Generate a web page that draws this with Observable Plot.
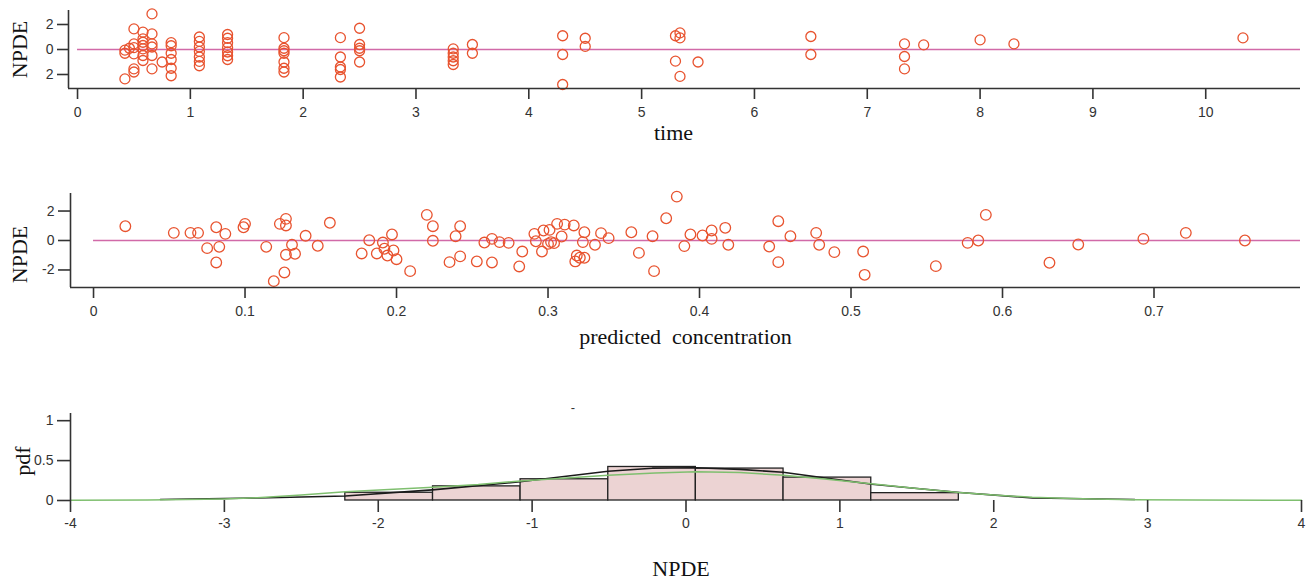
<!DOCTYPE html>
<html><head><meta charset="utf-8">
<script src="https://cdn.jsdelivr.net/npm/d3@7"></script>
<script src="https://cdn.jsdelivr.net/npm/@observablehq/plot@0.6"></script>
<style>
html,body{margin:0;padding:0;background:#fff;}
#chart svg{display:block;}
svg text{white-space:pre;}
</style></head><body><div id="chart"></div>
<script>
// ---- Panel 1: NPDE vs time ----
const timeVals = [0.42,0.42,0.42,0.46,0.5,0.5,0.5,0.5,0.5,0.5,0.58,0.58,0.58,0.58,0.58,0.58,0.58,0.66,0.66,0.66,0.66,0.66,0.66,0.75,0.83,0.83,0.83,0.83,0.83,0.83,1.08,1.08,1.08,1.08,1.08,1.08,1.08,1.33,1.33,1.33,1.33,1.33,1.33,1.33,1.83,1.83,1.83,1.83,1.83,1.83,1.83,2.33,2.33,2.33,2.33,2.33,2.5,2.5,2.5,2.5,2.5,3.33,3.33,3.33,3.33,3.33,3.5,3.5,4.3,4.3,4.3,4.5,4.5,5.3,5.3,5.34,5.34,5.34,5.5,6.5,6.5,7.33,7.33,7.33,7.5,8.0,8.3,10.33];
const timeNpde = [-2.35,-0.3,-0.05,0.1,1.65,0.45,0.15,-0.35,-1.55,-1.8,1.39,0.85,0.58,0.32,0.05,-0.48,-0.88,2.85,1.25,0.45,0.2,-0.48,-1.55,-1.0,0.55,0.3,-0.3,-0.8,-1.5,-2.1,1.0,0.65,0.2,-0.15,-0.6,-0.95,-1.3,1.2,0.9,0.55,0.15,-0.2,-0.5,-0.8,0.95,0.1,-0.1,-0.3,-1.0,-1.5,-1.8,0.95,-0.6,-1.4,-1.6,-2.2,1.7,0.4,0.1,-0.1,-1.0,0.05,-0.3,-0.6,-0.9,-1.2,0.4,-0.3,1.1,-0.4,-2.8,0.9,0.25,1.1,-0.93,1.33,0.93,-2.15,-1.0,1.04,-0.4,0.45,-0.56,-1.55,0.37,0.77,0.45,0.93];
const timeTicks = [0,1,2,3,4,5,6,7,8,9,10];
const npdeTicks = [-2,0,2];

// ---- Panel 2: NPDE vs predicted concentration ----
const predConc = [0.021,0.053,0.064,0.069,0.075,0.081,0.081,0.083,0.087,0.099,0.100,0.114,0.119,0.123,0.126,0.127,0.127,0.127,0.131,0.133,0.140,0.148,0.156,0.177,0.182,0.187,0.191,0.192,0.194,0.197,0.198,0.200,0.209,0.220,0.224,0.224,
  0.239,0.242,0.242,0.235,0.253,0.258,0.263,0.263,0.268,0.274,0.281,0.283,0.291,0.292,0.296,0.297,0.301,0.300,0.302,0.304,0.306,0.309,0.311,0.317,0.319,0.318,0.321,0.324,0.324,0.323,0.331,0.335,0.340,0.355,0.360,0.369,0.370,0.378,0.385,0.390,0.394,0.402,0.408,0.408,0.417,0.419,0.446,0.452,0.452,0.460,0.477,0.479,0.489,0.508,0.509,
  0.556,0.577,0.584,0.589,0.631,0.650,0.693,0.721,0.760];
const predNpde = [0.97,0.52,0.52,0.52,-0.52,0.9,-1.49,-0.43,0.45,0.9,1.13,-0.43,-2.76,1.13,-2.17,1.47,1.02,-0.97,-0.29,-0.9,0.32,-0.36,1.2,-0.88,0.02,-0.88,-0.14,-0.56,-1.02,0.41,-0.68,-1.27,-2.08,1.74,0.97,-0.02,
  0.29,0.97,-1.08,-1.47,-1.42,-0.14,0.11,-1.49,-0.11,-0.16,-1.76,-0.75,0.45,-0.05,-0.75,0.68,0.72,-0.23,-0.11,-0.18,1.13,0.27,1.08,1.02,-1.02,-1.42,-1.17,0.56,-1.17,-0.11,-0.29,0.5,0.16,0.56,-0.84,0.29,-2.08,1.51,2.98,-0.38,0.41,0.34,0.11,0.68,0.86,-0.29,-0.41,1.31,-1.47,0.29,0.52,-0.29,-0.79,-0.75,-2.33,
  -1.74,-0.16,0.0,1.74,-1.51,-0.27,0.11,0.52,0.0];
const concTicks = [0,0.1,0.2,0.3,0.4,0.5,0.6,0.7];

// ---- Panel 3: NPDE distribution ----
const binStart = [-2.214,-1.644,-1.075,-0.505,0.064,0.634,1.204];
const binEnd   = [-1.644,-1.075,-0.505,0.064,0.634,1.204,1.773];
const binPdf   = [0.097,0.177,0.266,0.42,0.40,0.287,0.092];
const densX = [-3.416,-2.786,-2.214,-1.649,-1.078,-0.506,-0.22,0.065,0.35,0.63,1.208,1.779,2.253,2.916];
const densY = [0.013,0.032,0.057,0.133,0.234,0.367,0.405,0.41,0.39,0.354,0.203,0.101,0.032,0.013];
const normX = [-4,-3.5,-3,-2.786,-2.5,-2.214,-1.9,-1.644,-1.35,-1.075,-0.8,-0.505,-0.2,0.064,0.35,0.634,0.9,1.204,1.5,1.773,2.0,2.25,2.5,2.9,3.3,4];
const normY = [0.003,0.006,0.02,0.035,0.07,0.11,0.14,0.165,0.2,0.245,0.28,0.315,0.345,0.36,0.35,0.316,0.27,0.21,0.15,0.1,0.07,0.04,0.025,0.01,0.005,0.002];
const npdeXTicks = [-4,-3,-2,-1,0,1,2,3,4];
const pdfTicks = [0,0.5,1];

const W = 1311;
const axisColor = "#333";
const dotColor = "#e8532f";
const zeroColor = "#d16aa8";
const serif = "'Liberation Serif','Times New Roman',serif";
const baseStyle = {fontFamily:"'Liberation Sans',Arial,sans-serif", fontSize:"14px", color:"#333", background:"#fff", overflow:"visible"};

const timeData = timeVals.map((t,i)=>({x:t, y:timeNpde[i]}));
const predData = predConc.map((c,i)=>({x:c, y:predNpde[i]}));
const bins = binStart.map((s,i)=>({x1:s, x2:binEnd[i], y:binPdf[i]}));
const dens = densX.map((x,i)=>({x, y:densY[i]}));
const norm = normX.map((x,i)=>({x, y:normY[i]}));

function label(txt, opts){ return Plot.text([txt], {text:d=>d, fontFamily:serif, fontSize:22, fill:"#111", textAnchor:"middle", lineAnchor:"middle", ...opts}); }

// Panel 1
const xd1 = [-0.08, 10.84], yd1 = [-3.12, 3.12];
const p1 = Plot.plot({
  width: W, height: 150, marginTop: 10, marginBottom: 62, marginLeft: 68, marginRight: 11,
  style: baseStyle,
  x: {domain: xd1}, y: {domain: yd1},
  marks: [
    Plot.ruleY([0], {x1: timeTicks[0], x2: xd1[1], stroke: zeroColor, strokeWidth: 1.3}),
    Plot.dot(timeData, {x:"x", y:"y", r:5, stroke: dotColor, strokeWidth:1.3, fill:"none"}),
    Plot.ruleX([xd1[0]], {y1: yd1[0], y2: yd1[1], stroke: axisColor, strokeWidth: 1.6}),
    Plot.ruleY([yd1[0]], {x1: xd1[0], x2: xd1[1], stroke: axisColor, strokeWidth: 1.6}),
    Plot.axisX({ticks: timeTicks, tickSize: 11, tickPadding: 8, tickFormat: d=>String(d), label: null, strokeWidth: 1.6}),
    Plot.axisY({ticks: npdeTicks, tickSize: 11, tickPadding: 4, tickFormat: d=>String(Math.abs(d)), label: null, strokeWidth: 1.6}),
    label("NPDE", {frameAnchor:"left", rotate:-90, dx:-49}),
    label("time", {frameAnchor:"bottom", dx:-11, dy:44})
  ]
});

// Panel 2
const xd2 = [-0.0152, 0.7967], yd2 = [-3.19, 3.19];
const p2 = Plot.plot({
  width: W, height: 230, marginTop: 43, marginBottom: 93, marginLeft: 70, marginRight: 11,
  style: baseStyle,
  x: {domain: xd2}, y: {domain: yd2},
  marks: [
    Plot.ruleY([0], {x1: concTicks[0], x2: xd2[1], stroke: zeroColor, strokeWidth: 1.3}),
    Plot.dot(predData, {x:"x", y:"y", r:5.3, stroke: dotColor, strokeWidth:1.3, fill:"none"}),
    Plot.ruleX([xd2[0]], {y1: yd2[0], y2: yd2[1], stroke: axisColor, strokeWidth: 1.6}),
    Plot.ruleY([yd2[0]], {x1: xd2[0], x2: xd2[1], stroke: axisColor, strokeWidth: 1.6}),
    Plot.axisX({ticks: concTicks, tickSize: 11, tickPadding: 8, tickFormat: d=>String(d), label: null, strokeWidth: 1.6}),
    Plot.axisY({ticks: npdeTicks, tickSize: 12, tickPadding: 4, tickFormat: d=>String(d), label: null, strokeWidth: 1.6}),
    label("NPDE", {frameAnchor:"left", rotate:-90, dx:-51, dy:14}),
    label("predicted  concentration", {frameAnchor:"bottom", dx:0, dy:49})
  ]
});

// Panel 3
const xd3 = [-4, 4], yd3 = [0, 1.09];
const p3 = Plot.plot({
  width: W, height: 199, marginTop: 33, marginBottom: 79, marginLeft: 70, marginRight: 10,
  style: baseStyle,
  x: {domain: xd3}, y: {domain: yd3},
  marks: [
    Plot.rectY(bins, {x1:"x1", x2:"x2", y:"y", fill:"#ecd3d3", stroke:"#222", strokeWidth:1.3}),
    Plot.line(dens, {x:"x", y:"y", stroke:"#1a1a1a", strokeWidth:1.6}),
    Plot.line(norm, {x:"x", y:"y", stroke:"#7fbf6f", strokeWidth:1.5}),
    Plot.ruleX([xd3[0]], {y1: yd3[0], y2: yd3[1], stroke: axisColor, strokeWidth: 1.6}),
    Plot.axisX({ticks: npdeXTicks, tickSize: 12, tickPadding: 6, tickFormat: d=>String(d), label: null, strokeWidth: 1.6}),
    Plot.axisY({ticks: pdfTicks, tickSize: 13, tickPadding: 4, tickFormat: d=>String(d), label: null, strokeWidth: 1.6}),
    label("pdf", {frameAnchor:"left", rotate:-90, dx:-48, dy:4}),
    label("NPDE", {frameAnchor:"bottom", dx:-5, dy:68}),
    Plot.text(["-"], {text:d=>d, frameAnchor:"top", textAnchor:"middle", lineAnchor:"middle", dx:-113, dy:-6, fontSize:13, fill:"#333"})
  ]
});

const root = document.getElementById("chart");
root.appendChild(p1); root.appendChild(p2); root.appendChild(p3);
</script></body></html>
